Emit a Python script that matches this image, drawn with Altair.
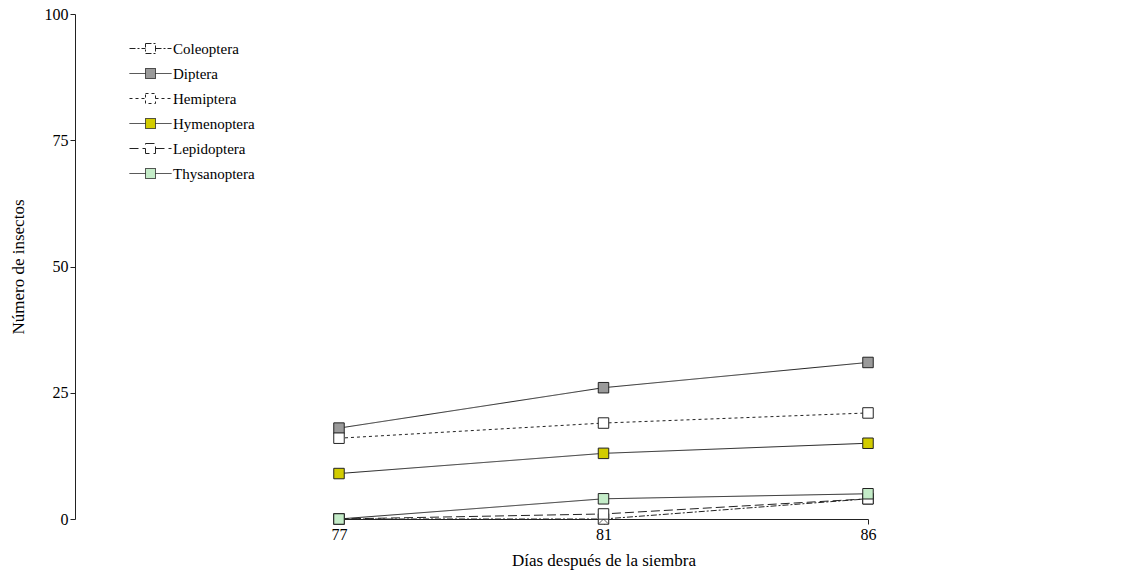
import altair as alt
import pandas as pd

dias = ["77", "81", "86"]
ordenes = ["Coleoptera", "Diptera", "Hemiptera", "Hymenoptera", "Lepidoptera", "Thysanoptera"]
coleoptera = [0, 0, 4]
diptera = [18, 26, 31]
hemiptera = [16, 19, 21]
hymenoptera = [9, 13, 15]
lepidoptera = [0, 1, 4]
thysanoptera = [0, 4, 5]
y_ticks = [0, 25, 50, 75, 100]

rellenos = ["#ffffff", "#9a9a9a", "#ffffff", "#d2cc00", "#ffffff", "#c4ecc8"]
trazos = [[6, 2, 2, 2], [1, 0], [3, 3], [1, 0], [9, 4], [1, 0]]

series = [coleoptera, diptera, hemiptera, hymenoptera, lepidoptera, thysanoptera]
rows = []
for name, vals in zip(ordenes, series):
    for d, v in zip(dias, vals):
        rows.append({"dia": d, "orden": name, "n": v})
df = pd.DataFrame(rows)

FONT = "Liberation Serif"
SYM = "M-4.2,0H-1M1,0H4.2M-1,-1H1V1H-1Z"

legend_kw = dict(
    title=None, orient="none", legendX=68, legendY=27,
    symbolType=SYM, symbolSize=100, symbolStrokeColor="#222222",
    symbolStrokeWidth=1, labelFont=FONT, labelFontSize=15,
    labelColor="black", labelOffset=15, rowPadding=9, padding=0,
)

x_enc = alt.X("dia:O", scale=alt.Scale(type="point", padding=0, domain=dias, range=[264, 793]),
              axis=alt.Axis(title="Días después de la siembra", labelAngle=0))
y_enc = alt.Y("n:Q", scale=alt.Scale(domain=[0, 100], nice=False),
              axis=alt.Axis(title="Número de insectos", values=y_ticks))

base = alt.Chart(df)
fill_enc = alt.Fill("orden:N", scale=alt.Scale(domain=ordenes, range=rellenos),
                    legend=alt.Legend(**legend_kw))

lines = base.mark_line(stroke="#222222", strokeWidth=1).encode(
    x=x_enc, y=y_enc,
    strokeDash=alt.StrokeDash("orden:N", scale=alt.Scale(domain=ordenes, range=trazos),
                              legend=alt.Legend(**legend_kw)),
)

pt_kw = dict(shape="square", filled=True, size=110, stroke="#222222", strokeWidth=1, opacity=1)

points_col = base.transform_filter(alt.datum.orden == "Coleoptera").mark_point(**pt_kw).encode(
    x=x_enc, y=y_enc, fill=fill_enc)

crosses = base.transform_filter(alt.datum.orden == "Coleoptera").mark_point(
    shape="M-1,-1L1,1M-1,1L1,-1", filled=False, size=90, stroke="#222222", strokeWidth=1
).encode(x=x_enc, y=y_enc)

points_rest = base.transform_filter(alt.datum.orden != "Coleoptera").mark_point(**pt_kw).encode(
    x=x_enc, y=y_enc, fill=fill_enc)

chart = alt.layer(lines, points_col, crosses, points_rest).properties(
    width=1048, height=505,
    autosize=alt.AutoSizeParams(type="none"),
    padding={"left": 67, "top": 6, "right": 0, "bottom": 52},
).configure_view(stroke=None).configure_axis(
    grid=False, domainColor="#222222", tickColor="#222222", tickSize=5,
    labelFont=FONT, labelFontSize=16, labelColor="black",
    titleFont=FONT, titleFontSize=17, titleFontWeight="normal", titleColor="black",
).configure_axisY(titlePadding=17).configure_axisX(titlePadding=10)

chart.save("out.html", embed_options={"renderer": "svg", "actions": False})
